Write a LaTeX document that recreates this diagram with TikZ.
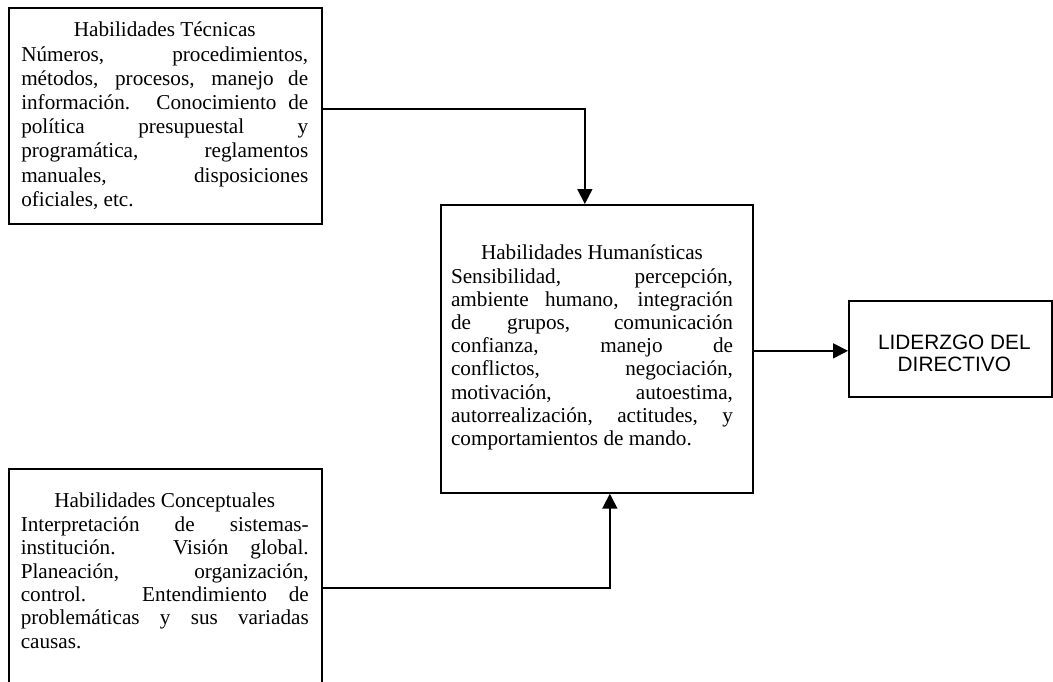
\documentclass[tikz,border=0pt]{standalone}
\usepackage{fontspec}
\setmainfont{Liberation Serif}
\newfontfamily\arialfont{Liberation Sans}
\usetikzlibrary{arrows.meta}

% one justified line, one centred line, one line set at natural width
\newcommand{\JL}[1]{\hbox to\hsize{#1}}
\newcommand{\CL}[1]{\hbox to\hsize{\hfil#1\hfil}}
\newcommand{\EL}[1]{\hbox to\hsize{#1\hfil}}
\hbadness=10000

\tikzset{
  box/.style={draw, line width=1.7pt, rectangle, inner sep=0pt, anchor=north west},
  txt/.style={inner sep=0pt, anchor=north},
  arr/.style={line width=1.7pt, -{Triangle[length=15pt,width=15pt]}},
}

\begin{document}
\begin{tikzpicture}[x=1pt,y=-1pt]
\useasboundingbox (0,0) rectangle (1053,681);

% boxes
\node[box, minimum width=313pt, minimum height=216pt] (tec) at (8,7) {};
\node[box, minimum width=312pt, minimum height=288pt] (hum) at (440,204) {};
\node[box, minimum width=313pt, minimum height=240pt] (con) at (8,468) {};
\node[box, minimum width=203pt, minimum height=96pt] (lid) at (848,300) {};

% texts
\node[txt] (ttec) at (164.75,22) {\vbox{\hsize=287pt\fontsize{21.2}{24.2}\selectfont
  \CL{Habilidades Técnicas}
  \JL{Números, procedimientos,}
  \JL{métodos, procesos, manejo de}
  \JL{información. Conocimiento de}
  \JL{política presupuestal y}
  \JL{programática, reglamentos}
  \JL{manuales, disposiciones}
  \EL{oficiales, etc.}}};

\node[txt] (thum) at (592,245) {\vbox{\hsize=282pt\fontsize{21.2}{23.2}\selectfont
  \CL{Habilidades Humanísticas}
  \JL{Sensibilidad, percepción,}
  \JL{ambiente humano, integración}
  \JL{de grupos, comunicación}
  \JL{confianza, manejo de}
  \JL{conflictos, negociación,}
  \JL{motivación, autoestima,}
  \JL{autorrealización, actitudes, y}
  \EL{comportamientos de mando.}}};

\node[txt] (tcon) at (164.75,493) {\vbox{\hsize=288pt\fontsize{21.2}{23.4}\selectfont
  \CL{Habilidades Conceptuales}
  \JL{Interpretación de sistemas-}
  \JL{institución. Visión global.}
  \JL{Planeación, organización,}
  \JL{control. Entendimiento de}
  \JL{problemáticas y sus variadas}
  \EL{causas.}}};

\node[align=center, font=\arialfont\fontsize{20.8}{22}\selectfont, inner sep=0pt]
  (tlid) at ([xshift=4pt,yshift=-4pt]lid.center) {LIDERZGO DEL\\DIRECTIVO};

% connectors
\draw[arr] ([yshift=7pt]tec.east) -| ([xshift=-12pt]hum.north);
\draw[arr] ([yshift=1pt]con.east) -| ([xshift=13pt]hum.south);
\draw[arr] ([yshift=-2pt]hum.east) -- ([yshift=-2pt]lid.west);
\end{tikzpicture}
\end{document}
